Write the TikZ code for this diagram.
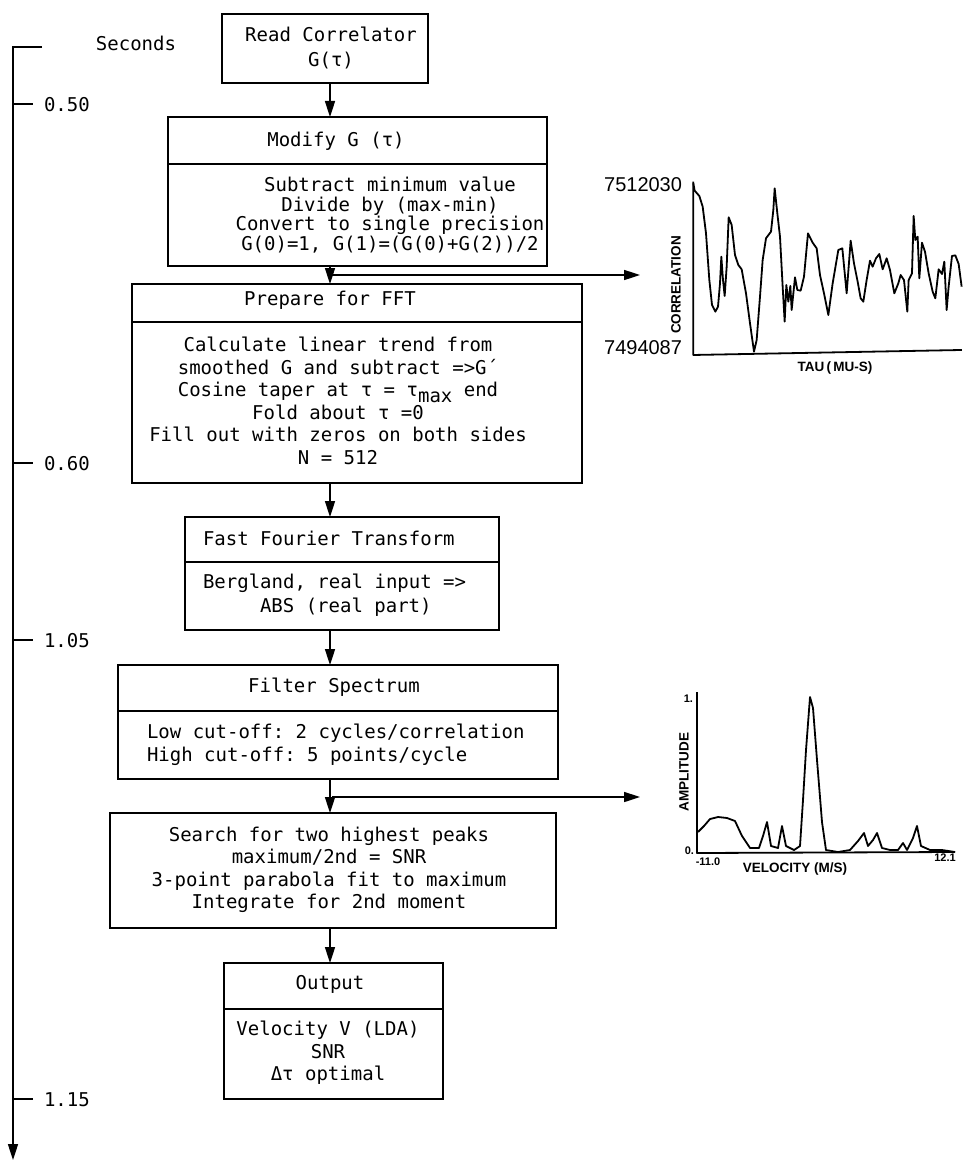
\documentclass[tikz,border=0pt]{standalone}
\usepackage{fontspec}
\setmonofont{DejaVu Sans Mono}
\newfontfamily\plotfont{Liberation Sans}
\usetikzlibrary{arrows.meta}
\begin{document}
\begin{tikzpicture}[x=1pt,y=-1pt,
  every node/.style={font=\ttfamily\fontsize{19}{22.5}\selectfont, inner sep=0pt, outer sep=0pt},
  box/.style={draw, line width=1.6pt, anchor=north west},
  arr/.style={line width=1.6pt, -{Triangle[length=16pt,width=10pt]}},
  ln/.style={line width=1.6pt},
  curve/.style={line width=1.8pt, line join=round},
  plab/.style={font=\plotfont\bfseries\fontsize{13.5}{13.5}\selectfont},
  psmall/.style={font=\plotfont\bfseries\fontsize{11}{11}\selectfont},
  pnum/.style={font=\plotfont\fontsize{20}{20}\selectfont},
  ]
\useasboundingbox (0,0) rectangle (962,1161);

% ---------- time axis ----------
\coordinate (tla) at (42,47);
\coordinate (tlb) at (13,47);
\coordinate (tlc) at (13,1160);
\draw[arr] (tla) -- (tlb) -- (tlc);
\draw[ln] (13,104) -- (33,104);
\draw[ln] (13,463) -- (33,463);
\draw[ln] (13,640) -- (33,640);
\draw[ln] (13,1099) -- (33,1099);
\node (secs) at (136,43) {Seconds};
\node[anchor=west] (t1) at (44,105) {0.50};
\node[anchor=west] (t2) at (44,464) {0.60};
\node[anchor=west] (t3) at (44,641) {1.05};
\node[anchor=west] (t4) at (44,1100) {1.15};

% ---------- boxes ----------
\node[box, minimum width=206pt, minimum height=69pt] (b1) at (222,14) {};
\node[box, minimum width=379pt, minimum height=149pt] (b2) at (168,117) {};
\node[box, minimum width=450pt, minimum height=199pt] (b3) at (132,284) {};
\node[box, minimum width=314pt, minimum height=113pt] (b4) at (185,517) {};
\node[box, minimum width=440pt, minimum height=114pt] (b5) at (118,665) {};
\node[box, minimum width=446pt, minimum height=115pt] (b6) at (110,813) {};
\node[box, minimum width=219pt, minimum height=136pt] (b7) at (224,963) {};

% dividers
\draw[ln] (168,164) -- (547,164);
\draw[ln] (132,322) -- (582,322);
\draw[ln] (185,562) -- (499,562);
\draw[ln] (118,711) -- (558,711);
\draw[ln] (224,1009) -- (443,1009);

% ---------- texts ----------
\node[align=center] (x1) at (331,48) {Read Correlator\\[3pt]G(τ)};

\node (x2t) at (336,141) {Modify G (τ)};
\node[align=center, font=\ttfamily\fontsize{19}{19.5}\selectfont] (x2b) at (390,215)
  {Subtract minimum value\\Divide by (max-min)\\Convert to single precision\\G(0)=1, G(1)=(G(0)+G(2))/2};

\node (x3t) at (330,300) {Prepare for FFT};
\node[align=center] (x3b) at (338,401)
  {Calculate linear trend from\\smoothed G and subtract =>G´\\Cosine taper at τ = τ\smash{\raisebox{-6pt}{max}} end\\Fold about τ =0\\Fill out with zeros on both sides\\N = 512};

\node[anchor=west] (x4t) at (203,538) {Fast Fourier Transform};
\node[align=left, anchor=west] (x4b) at (203,595)
  {Bergland, real input =>\\[1.5pt]\hspace*{57pt}ABS (real part)};

\node (x5t) at (334,687) {Filter Spectrum};
\node[align=left, anchor=west] (x5b) at (147,745)
  {Low cut-off: 2 cycles/correlation\\High cut-off: 5 points/cycle};

\node[align=center] (x6) at (329,870)
  {Search for two highest peaks\\maximum/2nd = SNR\\3-point parabola fit to maximum\\Integrate for 2nd moment};

\node (x7t) at (330,984) {Output};
\node[align=center] (x7b) at (328,1053)
  {Velocity V (LDA)\\SNR\\Δτ optimal};

% ---------- connectors ----------
\coordinate (ax) at (330,0);
\draw[arr] (b1.south -| ax) -- (b2.north -| ax);
\draw[arr] (b2.south -| ax) -- (b3.north -| ax);
\draw[arr] (b3.south -| ax) -- (b4.north -| ax);
\draw[arr] (b4.south -| ax) -- (b5.north -| ax);
\draw[arr] (b5.south -| ax) -- (b6.north -| ax);
\draw[arr] (b6.south -| ax) -- (b7.north -| ax);
\coordinate (br1) at (330,275);
\coordinate (br1e) at (640,275);
\draw[arr] (br1) -- (br1e);
\coordinate (br2) at (332,797);
\coordinate (br2e) at (640,797);
\draw[arr] (br2) -- (br2e);

% ---------- correlation plot ----------
\node[pnum, anchor=east] (c1) at (682,185) {7512030};
\node[pnum, anchor=east] (c2) at (682,348) {7494087};
\node[plab, rotate=90] (c3) at (676,285) {CORRELATION};
\node[plab] (c4) at (835,368) {TAU\,(\,MU-S)};
\begin{scope}[shift={(690,170)}, x=0.3333pt, y=-0.3333pt]
\draw[curve] (10,35) -- (10,555) -- (816,540);
\draw[curve] (10,40) -- (14,62) -- (28,78) -- (38,110) -- (48,190) -- (58,330) -- (66,405) -- (76,425) -- (84,410) -- (90,340) -- (94,260) -- (99,330) -- (104,378) -- (110,290) -- (116,142) -- (125,165) -- (135,255) -- (145,285) -- (155,298) -- (168,370) -- (180,460) -- (192,545) -- (200,510) -- (210,380) -- (218,270) -- (228,205) -- (243,185) -- (250,120) -- (254,55) -- (262,130) -- (270,200) -- (278,350) -- (284,455) -- (289,345) -- (295,395) -- (301,348) -- (305,420) -- (315,322) -- (322,360) -- (332,362) -- (342,320) -- (354,190) -- (368,218) -- (380,235) -- (390,315) -- (402,370) -- (415,435) -- (428,340) -- (445,240) -- (457,235) -- (470,370) -- (482,212) -- (492,280) -- (503,335) -- (512,385) -- (520,395) -- (530,330) -- (540,272) -- (548,290) -- (558,265) -- (568,252) -- (578,298) -- (590,265) -- (600,300) -- (613,370) -- (625,340) -- (632,315) -- (642,330) -- (652,425) -- (656,330) -- (666,310) -- (671,138) -- (676,210) -- (683,200) -- (688,325) -- (696,218) -- (705,245) -- (716,310) -- (728,365) -- (736,385) -- (746,298) -- (756,312) -- (763,275) -- (770,420) -- (776,350) -- (786,258) -- (796,256) -- (806,282) -- (815,350);
\end{scope}

% ---------- velocity plot ----------
\node[psmall, anchor=east] (v1) at (693,699) {1.};
\node[psmall, anchor=east] (v2) at (694,851) {0.};
\node[psmall] (v3) at (708,862) {-11.0};
\node[psmall] (v4) at (945,858) {12.1};
\node[plab, rotate=90] (v5) at (684,772) {AMPLITUDE};
\node[plab] (v6) at (795,869) {VELOCITY (M/S)};
\draw[curve] (697,692) -- (697,853) -- (955,852);
\draw[curve] (698,832) -- (704,826) -- (710,819) -- (718,817) -- (727,818) -- (735,821) -- (742,836) -- (750,848) -- (759,848) -- (763,836) -- (767,822) -- (771,846) -- (778,848) -- (782,826) -- (786,846) -- (794,850) -- (800,846) -- (803,800) -- (806,750) -- (810,697) -- (813,708) -- (817,760) -- (822,822) -- (826,850) -- (838,852) -- (850,850) -- (858,841) -- (864,833) -- (868,846) -- (873,840) -- (877,833) -- (882,848) -- (890,850) -- (898,850) -- (903,843) -- (907,850) -- (913,838) -- (917,826) -- (921,846) -- (930,850) -- (942,850) -- (955,852);

\end{tikzpicture}
\end{document}
